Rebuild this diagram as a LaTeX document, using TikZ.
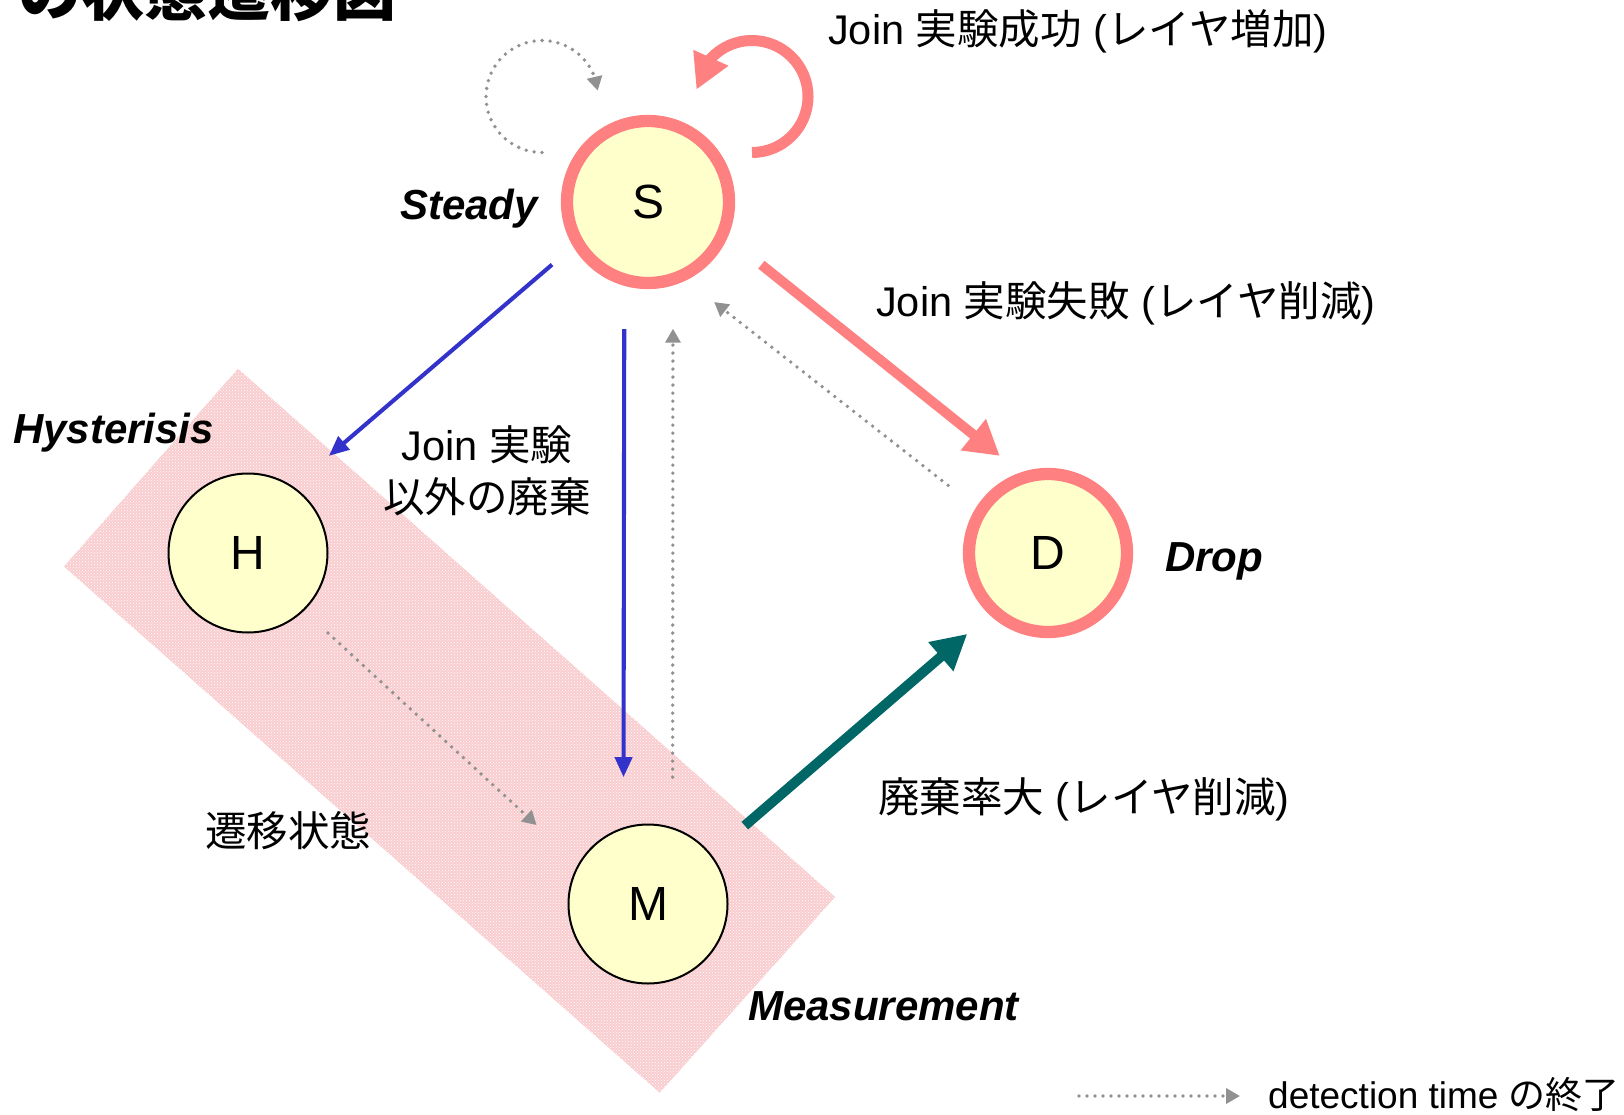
\documentclass[tikz,border=0pt]{standalone}
\usepackage{fontspec}
\setmainfont{Liberation Sans}
\newfontfamily\jp{Noto Sans CJK JP}
\usepackage{tikz}
\usetikzlibrary{arrows.meta,bending,calc,patterns}

\definecolor{ringpink}{RGB}{255,128,128}
\definecolor{statefill}{RGB}{255,255,204}
\definecolor{joinblue}{RGB}{51,51,204}
\definecolor{dropteal}{RGB}{0,102,102}
\definecolor{dotgray}{RGB}{145,145,145}
\definecolor{zonepink}{RGB}{249,205,207}

\begin{document}
\begin{tikzpicture}[x=1pt,y=-1pt,
    state/.style={
      circle,
      draw,
      fill=statefill,
      inner sep=0pt,
      outer sep=0pt,
      minimum size=159pt,
      line width=2pt,
      font=\fontsize{48}{48}\selectfont},
    hot/.style={draw=ringpink, line width=12.3pt},
    txt/.style={inner sep=0pt, font=\fontsize{41.5}{52}\selectfont},
    statename/.style={inner sep=0pt, font=\fontsize{42}{42}\selectfont\bfseries\itshape},
    joinarr/.style={color=joinblue, line width=4.1pt, -{Triangle[length=20pt,width=17pt]}},
    failarr/.style={color=ringpink, line width=10pt, -{Triangle[length=34pt,width=38pt]}},
    lossarr/.style={color=dropteal, line width=10pt, -{Triangle[length=35pt,width=36pt]}},
    selfjoin/.style={color=ringpink, line width=11pt, -{Triangle[length=35pt,width=36pt]}},
    timeout/.style={
      color=dotgray,
      line width=3.8pt,
      line cap=round,
      dash pattern=on 0pt off 8pt,
      -{Triangle[length=14pt,width=15pt]}}
  ]
  \useasboundingbox (0,0) rectangle (1624,1115);

  % transient zone
  \fill[zonepink] (64,566.5) -- (238,368.7) -- (835,897) -- (659.7,1092.7) -- cycle;
  \fill[pattern=crosshatch dots, pattern color=white] (64,566.5) -- (238,368.7) -- (835,897) -- (659.7,1092.7) -- cycle;

  \node[anchor=base west, inner sep=0pt, font=\fontsize{63}{63}\selectfont\jp\bfseries] (title) at (18,16) {の状態遷移図};

  % states
  \node[state,hot,minimum size=162pt] (S) at (648,202) {S};
  \node[state] (H) at (248,553) {H};
  \node[state] (M) at (648,904) {M};
  \node[state,hot,minimum size=158pt] (D) at (1048,553) {D};

  % transitions
  \draw[selfjoin] ($(S)+(104,-49.5)$) arc[start angle=90, end angle=-173, radius=56];
  \draw[timeout] ($(S)+(-106,-49.5)$) arc[start angle=90, end angle=354, radius=56];
  \draw[joinarr, shorten <=34pt, shorten >=48pt] (S.210) -- (H.56);
  \draw[joinarr, shorten <=49.6pt, shorten >=51.2pt] (S.253) -- (M.108);
  \draw[timeout, shorten <=51.3pt, shorten >=49.7pt] (M.72) -- (S.288);
  \draw[timeout, shorten <=41.8pt, shorten >=42.2pt] (D.148) -- (S.294);
  \draw[failarr, shorten <=49.7pt, shorten >=33.9pt] (S.337) -- (D.106);
  \draw[timeout, shorten <=33.7pt, shorten >=57.8pt] (H.314) -- (M.150);
  \draw[lossarr, shorten <=45.1pt, shorten >=35.4pt] (M.38) -- (D.227);

  % labels
  \node[txt, anchor=base west] (succ) at (828,45) {Join {\jp 実験成功} ({\jp レイヤ増加})};
  \node[txt, anchor=base west] (fail) at (876,316) {Join {\jp 実験失敗} ({\jp レイヤ削減})};
  \node[txt, align=center] (other) at (487,471) {Join {\jp 実験}\\{\jp 以外の廃棄}};
  \node[txt, anchor=base west] (loss) at (878,812) {{\jp 廃棄率大} ({\jp レイヤ削減})};
  \node[txt] (trans) at (288,831) {\jp 遷移状態};

  \node[statename, anchor=base east] (nS) at (538,220) {Steady};
  \node[statename, anchor=base west] (nH) at (13,443) {Hysterisis};
  \node[statename, anchor=base west] (nD) at (1165,571) {Drop};
  \node[statename, anchor=base west] (nM) at (748,1020) {Measurement};

  % legend
  \coordinate (lgstart) at (1079,1096);
  \coordinate (lgend) at (1240,1096);
  \draw[timeout] (lgstart) -- (lgend);
  \node[txt, anchor=base west, font=\fontsize{37}{37}\selectfont] (lgtext) at (1268,1108) {detection time {\jp の終了}};
\end{tikzpicture}
\end{document}
